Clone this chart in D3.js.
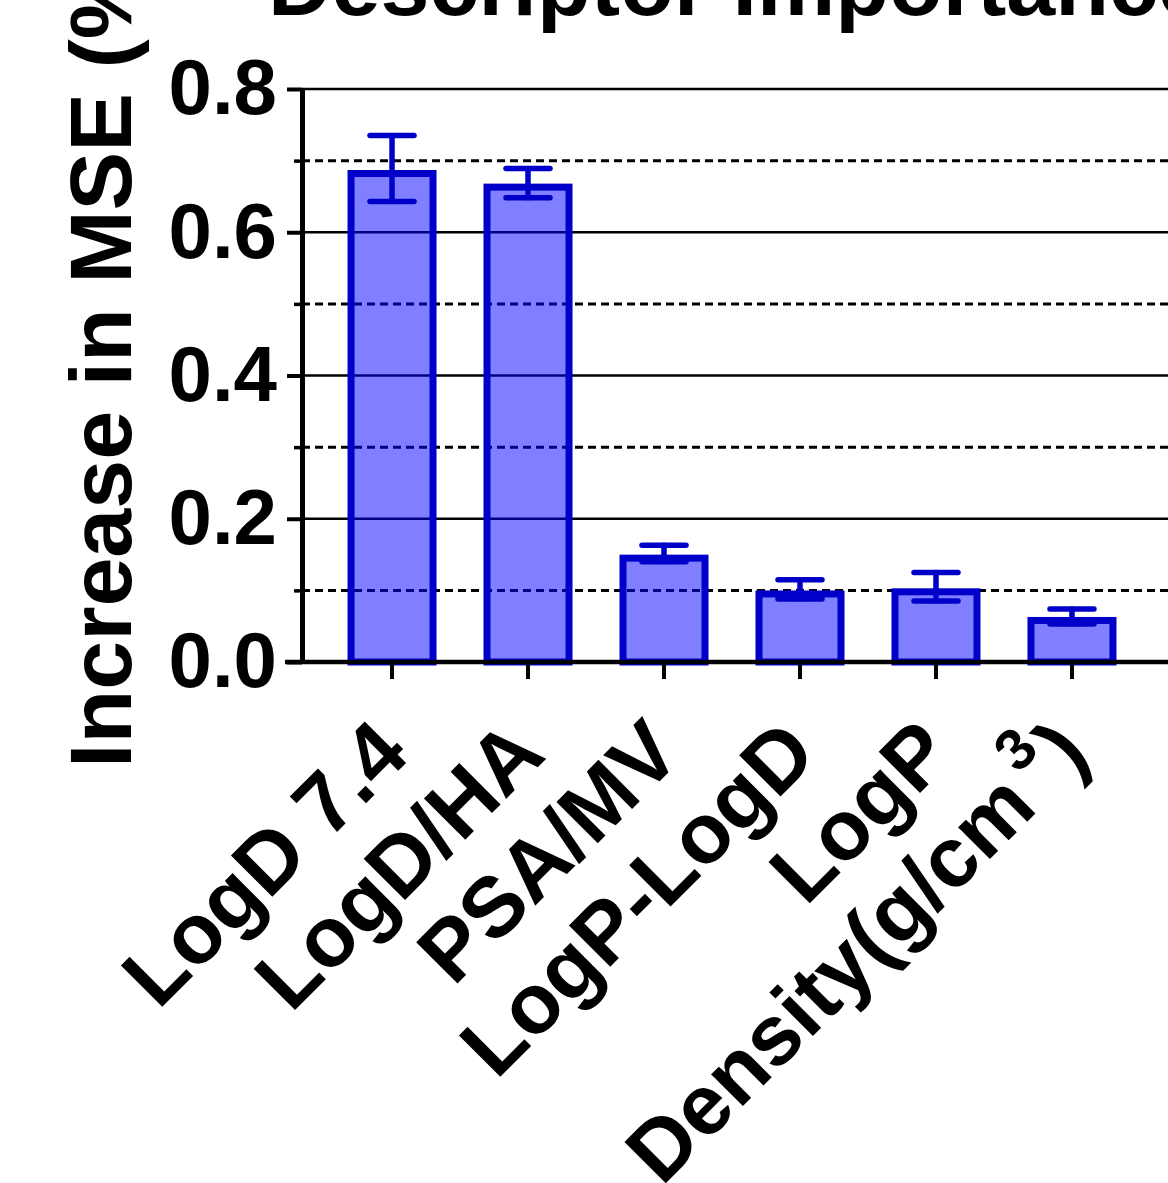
<!DOCTYPE html>
<html>
<head>
<meta charset="utf-8">
<script src="https://cdn.jsdelivr.net/npm/d3@7"></script>
<style>
  html, body { margin: 0; padding: 0; background: #fff; overflow: hidden; }
  text { font-family: "Liberation Sans", Arial, sans-serif; font-weight: bold; }
</style>
</head>
<body>
<svg id="chart" width="1168" height="1183"></svg>
<script>
// descriptor importance
const categories = ['LogD 7.4', 'LogD/HA', 'PSA/MV', 'LogP-LogD', 'LogP', 'Density(g/cm³)'];
const values = [0.682, 0.663, 0.145, 0.095, 0.098, 0.058];
const errLow = [0.643, 0.648, 0.140, 0.088, 0.085, 0.053];
const errHigh = [0.735, 0.689, 0.163, 0.115, 0.125, 0.074];
const majorTicks = [0, 0.2, 0.4, 0.6, 0.8];
const minorTicks = [0.1, 0.3, 0.5, 0.7];

const svg = d3.select('#chart');
const plotLeft = 302, plotRight = 1162, plotBottom = 662, plotTop = 89;
const gridEnd = 1170;
const barStroke = '#0000c8';

const x = d3.scaleBand()
  .domain(categories)
  .range([plotLeft, plotRight])
  .paddingInner(0)
  .paddingOuter(0.162);

const y = d3.scaleLinear()
  .domain([0, 0.8])
  .range([plotBottom, plotTop]);

const barWidth = 82;

// gridlines
svg.append('g')
  .selectAll('line')
  .data(majorTicks.filter(d => d > 0))
  .enter()
  .append('line')
  .attr('x1', plotLeft).attr('x2', gridEnd)
  .attr('y1', d => y(d)).attr('y2', d => y(d))
  .attr('stroke', '#000')
  .attr('stroke-width', 2.5);

svg.append('g')
  .selectAll('line')
  .data(minorTicks)
  .enter()
  .append('line')
  .attr('x1', plotLeft).attr('x2', gridEnd)
  .attr('y1', d => y(d)).attr('y2', d => y(d))
  .attr('stroke', '#000')
  .attr('stroke-width', 3)
  .attr('stroke-dasharray', '8,5');

// bars
const rows = categories.map((c, i) => ({ c, v: values[i], lo: errLow[i], hi: errHigh[i] }));

svg.append('g')
  .selectAll('rect')
  .data(rows)
  .enter()
  .append('rect')
  .attr('x', d => x(d.c) + x.bandwidth() / 2 - barWidth / 2)
  .attr('width', barWidth)
  .attr('y', d => y(d.v))
  .attr('height', d => y(0) - y(d.v))
  .attr('fill', 'rgba(0,0,255,0.5)')
  .attr('stroke', barStroke)
  .attr('stroke-width', 7);

// error bars
const err = svg.append('g')
  .attr('stroke', barStroke)
  .attr('stroke-width', 5.5)
  .attr('stroke-linecap', 'round')
  .selectAll('g')
  .data(rows)
  .enter()
  .append('g')
  .attr('transform', d => `translate(${x(d.c) + x.bandwidth() / 2},0)`);

err.append('line')
  .attr('y1', d => y(d.lo)).attr('y2', d => y(d.hi));
err.append('line')
  .attr('x1', -22).attr('x2', 22)
  .attr('y1', d => y(d.hi)).attr('y2', d => y(d.hi));
err.append('line')
  .attr('x1', -22).attr('x2', 22)
  .attr('y1', d => y(d.lo)).attr('y2', d => y(d.lo));

// y axis
const yAxis = svg.append('g')
  .attr('transform', `translate(${plotLeft},0)`)
  .call(d3.axisLeft(y).tickValues(majorTicks).tickFormat(d3.format('.1f')).tickSize(15).tickSizeOuter(0).tickPadding(10));
yAxis.select('.domain').attr('stroke-width', 5);
yAxis.selectAll('.tick line').attr('stroke-width', 4);
yAxis.selectAll('.tick text').attr('font-size', 78).attr('fill', '#000')
  .attr('font-family', '"Liberation Sans", Arial, sans-serif').attr('font-weight', 'bold');

const yMinor = svg.append('g')
  .attr('transform', `translate(${plotLeft},0)`)
  .call(d3.axisLeft(y).tickValues(minorTicks).tickFormat('').tickSize(8).tickSizeOuter(0));
yMinor.select('.domain').remove();
yMinor.selectAll('.tick line').attr('stroke-width', 3.5);

// x axis baseline and ticks
svg.append('line')
  .attr('x1', 285).attr('x2', gridEnd)
  .attr('y1', plotBottom).attr('y2', plotBottom)
  .attr('stroke', '#000')
  .attr('stroke-width', 4.5);

const xAxis = svg.append('g')
  .attr('transform', `translate(0,${plotBottom})`)
  .call(d3.axisBottom(x).tickSize(17).tickSizeOuter(0).tickFormat(''));
xAxis.select('.domain').remove();
xAxis.selectAll('.tick line').attr('stroke-width', 4);

// rotated category labels
const labels = svg.append('g')
  .selectAll('text')
  .data(categories)
  .enter()
  .append('text')
  .attr('transform', d => `translate(${x(d) + x.bandwidth() / 2 + 20},757) rotate(-45)`)
  .attr('text-anchor', 'end')
  .attr('font-size', 85)
  .attr('fill', '#000');

labels.each(function (d) {
  const t = d3.select(this);
  const parts = d.split('³');
  if (parts.length === 1) {
    t.text(d);
  } else {
    t.append('tspan').text(parts[0]);
    t.append('tspan').attr('font-size', 58).attr('dx', 10).attr('dy', -40).text('3');
    t.append('tspan').attr('dx', 4).attr('dy', 40).text(parts[1]);
  }
});

// axis title
svg.append('text')
  .attr('transform', 'translate(131,768) rotate(-90)')
  .attr('text-anchor', 'start')
  .attr('font-size', 88)
  .attr('fill', '#000')
  .text('Increase in MSE (%)');

// chart title
svg.append('text')
  .attr('x', 268)
  .attr('y', 15)
  .attr('font-size', 88)
  .attr('fill', '#000')
  .text('Descriptor Importance');
</script>
</body>
</html>
